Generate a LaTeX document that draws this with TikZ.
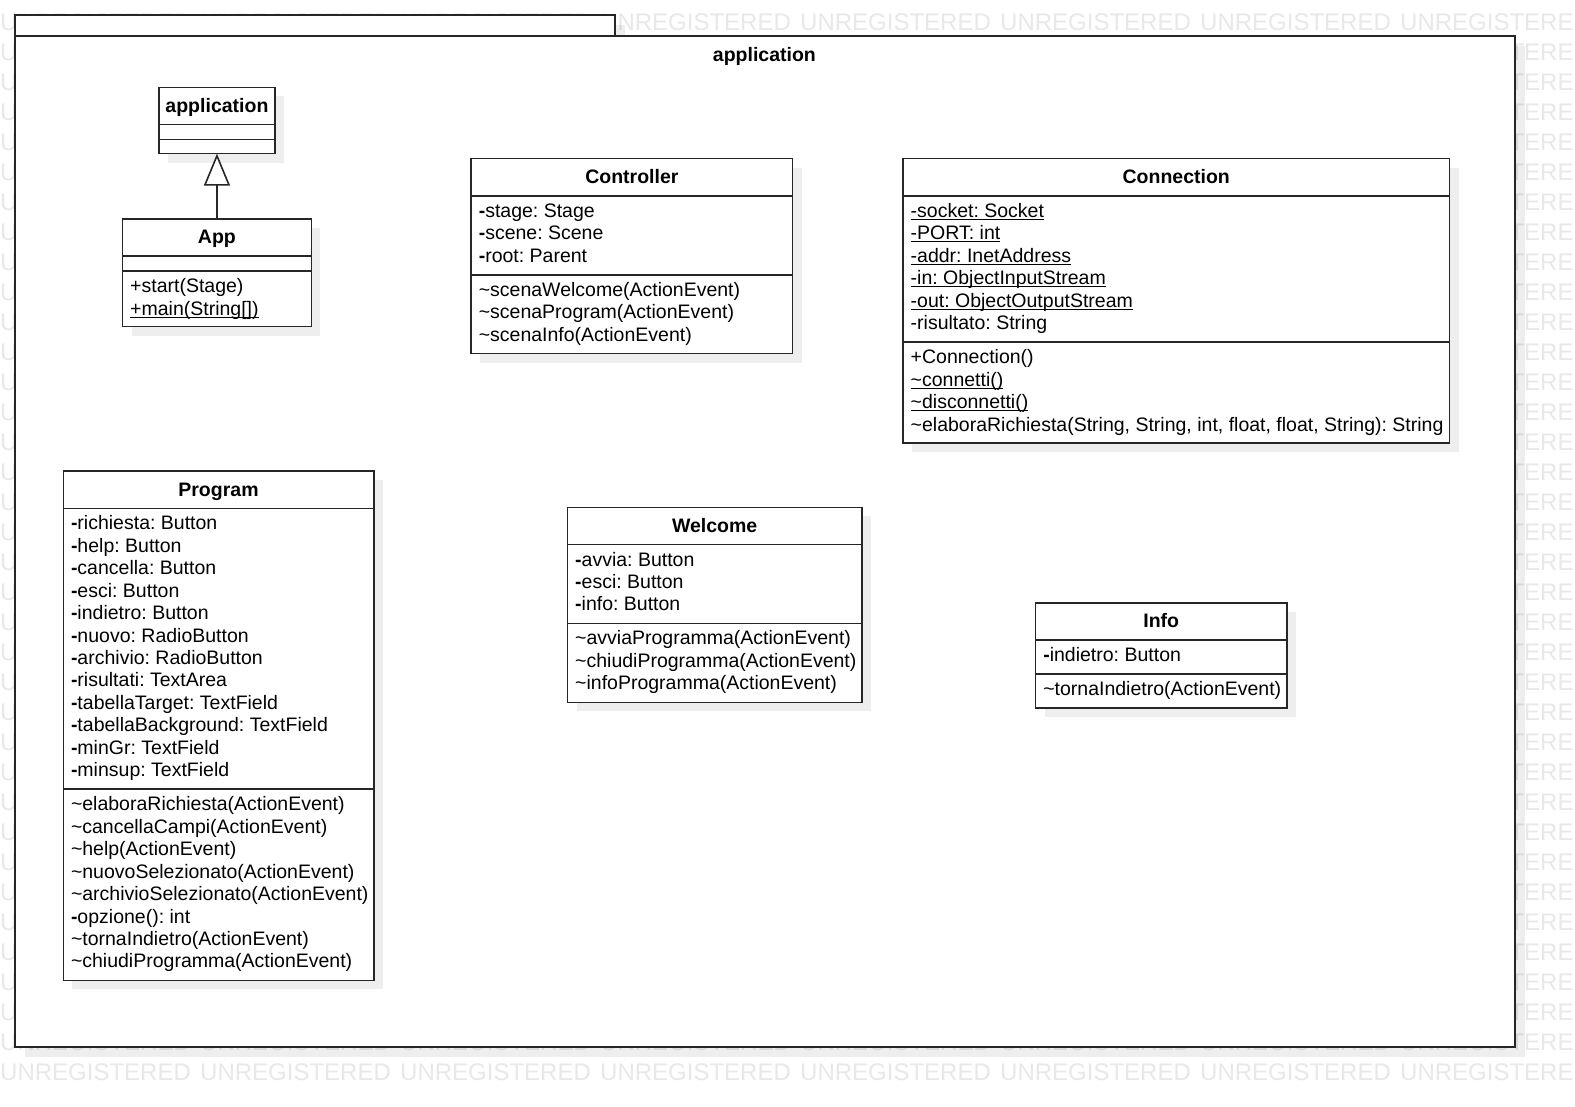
\documentclass[tikz,border=0pt]{standalone}
\usepackage{fontspec}
\setmainfont{Liberation Sans}
\usetikzlibrary{calc,arrows.meta}
\frenchspacing

% bold visibility mark, tilde, and static (underlined) member
\newcommand\pv{\textbf{-}}
\newcommand\tld{\textasciitilde}
\newcommand\statc[1]{\setbox0=\hbox{#1}\rlap{\rule[-2.6pt]{\wd0}{1.1pt}}\box0}

% a class: id, x, y, width, attribute height, operation height, name
\newcommand\umlbox[7]{%
  \fill[shade] (#2+9,#3+9) rectangle ++(#4,37.2+#5+#6);
  \node[cbox, minimum width=#4pt, minimum height=37.2pt] (#1) at (#2,#3) {};
  \node[cbox, minimum width=#4pt, minimum height=#5pt] (#1-a) at (#2,#3+37.2) {};
  \node[cbox, minimum width=#4pt, minimum height=#6pt] (#1-m) at (#2,#3+37.2+#5) {};
  \node[cname] (#1-t) at (#2+#4/2,#3+25) {#7};
}
% rows of text inside a compartment
\newcommand\umlrows[2]{%
  \foreach \t [count=\i] in {#2} {
    \node[row] (#1-\i) at ($(#1.north west)+(7.5,21.5+22.45*\i-22.45)$) {\t};
  }
}

\begin{document}
\begin{tikzpicture}[x=1pt,y=-1pt]
\tikzset{
  cbox/.style={draw=black!85, line width=1.6pt, fill=white, anchor=north west,
               inner sep=0pt, outer sep=0pt},
  shade/.style={fill=black, fill opacity=0.065, draw=none},
  row/.style={inner sep=0pt, anchor=base west, font=\fontsize{19.5}{22.45}\selectfont},
  cname/.style={inner sep=0pt, anchor=base, font=\fontsize{19.5}{22.45}\selectfont\bfseries},
  wm/.style={inner sep=0pt, anchor=base west, text=black!9, font=\fontsize{24}{24}\selectfont},
  gen/.style={draw=black!85, line width=1.6pt,
              -{Triangle[open, length=32pt, width=26pt, fill=white]}},
}
\useasboundingbox (0,0) rectangle (1575,1107);
\fill[white] (0,0) rectangle (1575,1107);

% tiled background text
\foreach \r in {0,...,35} {
  \foreach \c in {0,...,7} {
    \node[wm] (wm-\r-\c) at (200*\c, 30.7+29.98*\r) {UNREGISTERED};
  }
}

% package frame with tab
\fill[shade] (25.1,25.1) rectangle (624.7,46.2);
\fill[shade] (25.1,46.2) rectangle (1524.8,1056.7);
\node[cbox, minimum width=599.6pt, minimum height=21.1pt] (pkg-tab) at (15.1,15.1) {};
\node[cbox, minimum width=1499.7pt, minimum height=1010.5pt] (pkg) at (15.1,36.2) {};
\node[cname] (pkg-name) at (764.4,62) {application};

% application
\umlbox{appl}{158.7}{87.4}{116.5}{15}{14.1}{application}

% App
\umlbox{app}{122.5}{219}{188.9}{15.1}{55.3}{App}
\umlrows{app-m}{{+start(Stage)},{\statc{+main(String[])}}}

\draw[gen] (app.north) -- (appl-m.south);

% Controller
\umlbox{ctrl}{471.1}{158.7}{321.5}{78.9}{78.9}{Controller}
\umlrows{ctrl-a}{{\pv stage: Stage},{\pv scene: Scene},{\pv root: Parent}}
\umlrows{ctrl-m}{{\tld scenaWelcome(ActionEvent)},{\tld scenaProgram(ActionEvent)},{\tld scenaInfo(ActionEvent)}}

% Connection
\umlbox{conn}{903}{158.7}{546.5}{146.25}{100.9}{Connection}
\umlrows{conn-a}{{\statc{-socket: Socket}},{\statc{-PORT: int}},{\statc{-addr: InetAddress}},{\statc{-in: ObjectInputStream}},{\statc{-out: ObjectOutputStream}},{-risultato: String}}
\umlrows{conn-m}{{+Connection()},{\statc{\tld connetti()}},{\statc{\tld disconnetti()}},{\tld elaboraRichiesta(String, String, int, float, float, String): String}}

% Program
\umlbox{prog}{63.3}{471.1}{310.4}{280.95}{191.15}{Program}
\umlrows{prog-a}{{\pv richiesta: Button},{\pv help: Button},{\pv cancella: Button},{\pv esci: Button},{\pv indietro: Button},{\pv nuovo: RadioButton},{\pv archivio: RadioButton},{\pv risultati: TextArea},{\pv tabellaTarget: TextField},{\pv tabellaBackground: TextField},{\pv minGr: TextField},{\pv minsup: TextField}}
\umlrows{prog-m}{{\tld elaboraRichiesta(ActionEvent)},{\tld cancellaCampi(ActionEvent)},{\tld help(ActionEvent)},{\tld nuovoSelezionato(ActionEvent)},{\tld archivioSelezionato(ActionEvent)},{\pv opzione(): int},{\tld tornaIndietro(ActionEvent)},{\tld chiudiProgramma(ActionEvent)}}

% Welcome
\umlbox{welc}{567.5}{507.3}{294.4}{78.9}{78.9}{Welcome}
\umlrows{welc-a}{{\pv avvia: Button},{\pv esci: Button},{\pv info: Button}}
\umlrows{welc-m}{{\tld avviaProgramma(ActionEvent)},{\tld chiudiProgramma(ActionEvent)},{\tld infoProgramma(ActionEvent)}}

% Info
\umlbox{info}{1035.6}{602.7}{251.2}{34}{34}{Info}
\umlrows{info-a}{{\pv indietro: Button}}
\umlrows{info-m}{{\tld tornaIndietro(ActionEvent)}}
\end{tikzpicture}
\end{document}
